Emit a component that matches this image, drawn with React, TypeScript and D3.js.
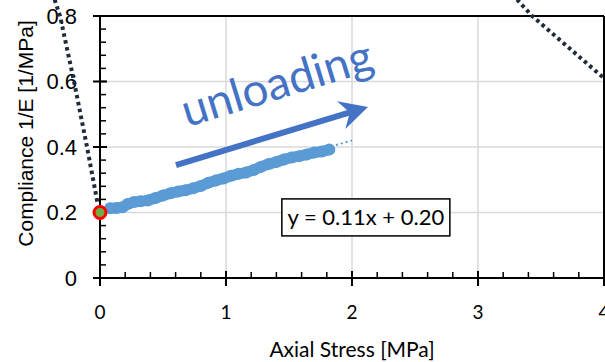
import React from 'react'
import * as d3 from 'd3'

// unloading curve: axial stress [MPa] vs compliance [1/MPa]
const stress = [0.08, 0.13, 0.18, 0.22, 0.27, 0.32, 0.38, 0.44, 0.50, 0.56, 0.62, 0.68, 0.74, 0.80, 0.86, 0.92, 0.98, 1.04, 1.10, 1.16, 1.22, 1.28, 1.34, 1.40, 1.46, 1.52, 1.58, 1.64, 1.70, 1.76, 1.82]
const compliance = [0.213, 0.214, 0.216, 0.226, 0.232, 0.234, 0.237, 0.244, 0.252, 0.259, 0.264, 0.268, 0.274, 0.281, 0.291, 0.298, 0.304, 0.312, 0.318, 0.322, 0.330, 0.340, 0.348, 0.354, 0.362, 0.368, 0.372, 0.377, 0.383, 0.386, 0.392]

// linear trendline
const slope = 0.11
const intercept = 0.20
const trendRange = [0.08, 2.0]

// start point
const startPoint = [0, 0.2]

// other (loading) branches, dotted
const leftBranchX = [-0.36, -0.317, -0.206, -0.103, -0.02]
const leftBranchY = [0.85, 0.8, 0.6, 0.4, 0.23]
const rightBranchX = [3.31, 3.43, 4.0]
const rightBranchY = [0.85, 0.8, 0.61]

const xTicks = [0, 1, 2, 3, 4]
const yTicks = [0, 0.2, 0.4, 0.6, 0.8]

const W = 605
const H = 362
const margin = { top: 16, right: 1, bottom: 84, left: 100 }

export default function App() {
  const x = d3.scaleLinear().domain([0, 4]).range([margin.left, W - margin.right])
  const y = d3.scaleLinear().domain([0, 0.8]).range([H - margin.bottom, margin.top])

  const line = d3.line<number[]>().x(d => x(d[0])).y(d => y(d[1]))
  const pts = stress.map((s, i) => [s, compliance[i]])
  const left = leftBranchX.map((v, i) => [v, leftBranchY[i]])
  const right = rightBranchX.map((v, i) => [v, rightBranchY[i]])
  const trend = trendRange.map(v => [v, slope * v + intercept])

  const xMinor = d3.range(0, 4.001, 0.2)
  const yMinor = d3.range(0, 0.8001, 0.04)

  const x0 = x(0), y0 = y(0)

  // arrow (annotation) in data coords
  const a0 = [x(0.603), y(0.345)]
  const a1 = [x(2.127), y(0.522)]
  const ang = Math.atan2(a1[1] - a0[1], a1[0] - a0[0]) * 180 / Math.PI
  const len = Math.hypot(a1[0] - a0[0], a1[1] - a0[1])

  const eqX = x(2.11), eqY = y(0.185)

  return (
    <svg width={W} height={H} style={{ position: 'absolute', left: 0, top: 0, background: '#fff' }}>
      {/* grid */}
      {xTicks.slice(1, -1).map(t => (
        <line key={'gx' + t} x1={x(t)} x2={x(t)} y1={y(0)} y2={y(0.8)} stroke="#d9d9d9" strokeWidth={1.5} />
      ))}
      {yTicks.slice(1, -1).map(t => (
        <line key={'gy' + t} x1={x(0)} x2={x(4)} y1={y(t)} y2={y(t)} stroke="#d9d9d9" strokeWidth={1.5} />
      ))}

      {/* frame */}
      <line x1={x(0)} x2={x(4)} y1={y(0.8)} y2={y(0.8)} stroke="#000" strokeWidth={2} />
      <line x1={x(4)} x2={x(4)} y1={y(0.8)} y2={y(0)} stroke="#000" strokeWidth={2} />

      {/* axes */}
      <line x1={x0} x2={x0} y1={y(0.8)} y2={y0} stroke="#000" strokeWidth={2} />
      <line x1={x(0)} x2={x(4)} y1={y0} y2={y0} stroke="#000" strokeWidth={2} />
      {yMinor.map(t => (
        <line key={'ym' + t} x1={x0} x2={x0 + 6} y1={y(t)} y2={y(t)} stroke="#000" strokeWidth={1.5} />
      ))}
      {yTicks.map(t => (
        <line key={'yM' + t} x1={x0 - 7} x2={x0 + 7} y1={y(t)} y2={y(t)} stroke="#000" strokeWidth={2} />
      ))}
      {xMinor.map(t => (
        <line key={'xm' + t} x1={x(t)} x2={x(t)} y1={y0} y2={y0 - 6} stroke="#000" strokeWidth={1.5} />
      ))}
      {xTicks.map(t => (
        <line key={'xM' + t} x1={x(t)} x2={x(t)} y1={y0 - 7} y2={y0 + 8} stroke="#000" strokeWidth={2} />
      ))}

      {yTicks.map(t => (
        <text key={'yl' + t} x={77} y={y(t)} dy="0.36em" textAnchor="end" fontFamily="'Liberation Sans', Arial, sans-serif" fontSize={22} fill="#000">
          {t === 0 ? '0' : t.toFixed(1)}
        </text>
      ))}
      {xTicks.map(t => (
        <text key={'xl' + t} x={x(t)} y={319} textAnchor="middle" fontFamily="Lato, sans-serif" fontSize={19} fill="#000">
          {t}
        </text>
      ))}

      <text x={352} y={357} textAnchor="middle" fontFamily="Lato, sans-serif" fontSize={21} fill="#000">Axial Stress [MPa]</text>
      <text transform={`translate(33,${133.5}) rotate(-90)`} textAnchor="middle" fontFamily="'Liberation Sans', Arial, sans-serif" fontSize={21} fill="#000">
        Compliance 1/E [1/MPa]
      </text>

      {/* loading branches */}
      <path d={line(left) || ''} fill="none" stroke="#1f2a3a" strokeWidth={4} strokeDasharray="3.5,3.5" />
      <path d={line(right) || ''} fill="none" stroke="#1f2a3a" strokeWidth={4} strokeDasharray="3.5,3.5" />

      {/* trendline */}
      <path d={line(trend) || ''} fill="none" stroke="#5b9bd5" strokeWidth={2} strokeDasharray="2,3" />

      {/* unloading data */}
      <path d={line(pts) || ''} fill="none" stroke="#5b9bd5" strokeWidth={11} strokeLinecap="round" strokeLinejoin="round" />
      {pts.map((p, i) => (
        <circle key={i} cx={x(p[0])} cy={y(p[1])} r={6} fill="#5b9bd5" />
      ))}

      {/* start marker */}
      <circle cx={x(startPoint[0])} cy={y(startPoint[1])} r={6} fill="#70ad47" stroke="#ff0000" strokeWidth={3} />

      {/* arrow */}
      <g transform={`translate(${a0[0]},${a0[1]}) rotate(${ang})`}>
        <line x1={0} y1={0} x2={len - 18} y2={0} stroke="#4472c4" strokeWidth={6} />
        <path d={`M${len},0 L${len - 28},-14.5 L${len - 19},0 L${len - 28},14.5 Z`} fill="#4472c4" />
      </g>
      <text transform={`translate(${x(0.69)},${y(0.46)}) rotate(-17)`} fontFamily="Lato, sans-serif" fontSize={46} fill="#4472c4">
        unloading
      </text>

      {/* equation label */}
      <rect x={eqX - 84} y={eqY - 18.5} width={168} height={37} fill="#fff" stroke="#000" strokeWidth={1.5} />
      <text x={eqX} y={eqY} dy="0.35em" textAnchor="middle" fontFamily="Lato, sans-serif" fontSize={22} fill="#000">
        {`y = ${slope.toFixed(2)}x + ${intercept.toFixed(2)}`}
      </text>
    </svg>
  )
}
